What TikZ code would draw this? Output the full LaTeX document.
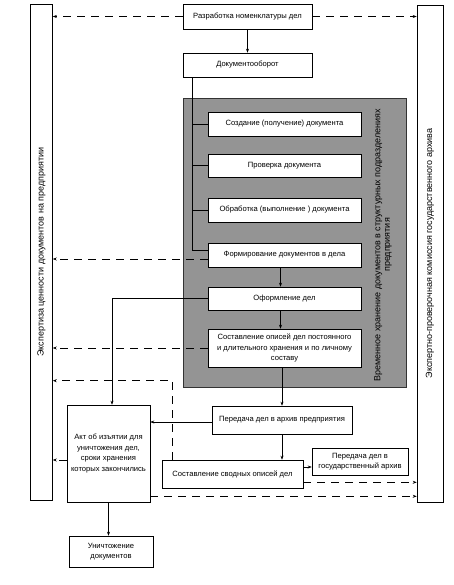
\documentclass[tikz,border=0pt]{standalone}
\usepackage{fontspec}
\setmainfont{Liberation Sans}
\usetikzlibrary{arrows.meta,calc}
\begin{document}
\begin{tikzpicture}[x=1pt,y=-1pt,
  txt/.style={font=\fontsize{7.6}{10.4}\selectfont},
  rtxt/.style={rotate=90,font=\fontsize{9}{9.6}\selectfont},
  box/.style={txt,draw,line width=0.6pt,fill=white,inner sep=1pt,align=center},
  col/.style={draw,line width=0.6pt,fill=white},
  arr/.style={-{Stealth[length=4pt,width=3pt]},line width=0.5pt},
  darr/.style={arr,dash pattern=on 8pt off 6pt},
  ln/.style={line width=0.5pt}]
\useasboundingbox (0,0) rectangle (454,585);
% side columns
\node[col,minimum width=22pt,minimum height=496pt] (lc) at (41.5,252) {};
\node[rtxt] (lct) at (lc.center) {Экспертиза ценности документов на предприятии};
\node[col,minimum width=26pt,minimum height=497pt] (rc) at (430,253.5) {};
\node[rtxt] (rct) at (rc.center) {Экспертно-проверочная комиссия государственного архива};
% grey region
\node[draw=black!80,fill=black!42,line width=0.8pt,minimum width=223pt,minimum height=289pt] (grey) at (294.5,242.5) {};
\node[rtxt,align=center] (greyt) at (383,245) {Временное хранение документов в структурных подразделениях\\предприятия};
% boxes
\node[box,minimum width=129pt,minimum height=25pt] (top) at (247.5,16.5) {Разработка номенклатуры дел};
\node[box,minimum width=129pt,minimum height=24pt] (doc) at (247.5,65) {Документооборот};
\node[box,minimum width=153pt,minimum height=24pt] (b1) at (284.5,124) {Создание (получение) документа};
\node[box,minimum width=153pt,minimum height=23pt] (b2) at (284.5,165.5) {Проверка документа};
\node[box,minimum width=153pt,minimum height=24pt] (b3) at (284.5,210) {Обработка (выполнение ) документа};
\node[box,minimum width=153pt,minimum height=24pt] (b4) at (284.5,255) {Формирование документов в дела};
\node[box,minimum width=153pt,minimum height=23pt] (b5) at (284.5,298.5) {Оформление дел};
\node[box,minimum width=153pt,minimum height=38pt] (b6) at (284.5,348) {Составление описей дел постоянного\\и длительного хранения и по личному\\составу};
\node[box,minimum width=140pt,minimum height=28pt] (pa) at (282,420) {Передача дел в архив предприятия};
\node[box,minimum width=83pt,minimum height=97pt] (akt) at (108.5,453.5) {Акт об изъятии для\\уничтожения дел,\\сроки хранения\\которых закончились};
\node[box,minimum width=141pt,minimum height=28pt] (svod) at (232.5,474) {Составление сводных описей дел};
\node[box,minimum width=96pt,minimum height=27pt] (gos) at (360,461.5) {Передача дел в\\государственный архив};
\node[box,minimum width=84pt,minimum height=31pt] (unich) at (111,551.5) {Уничтожение\\документов};
% connectors
\draw[darr] (top.west) -- (top.west -| lc.east);
\draw[darr] (top.east) -- (top.east -| rc.west);
\draw[arr] (top) -- (doc);
\coordinate (v0) at ($(doc.south west)+(10,0)$);
\coordinate (t4) at ($(b4.west)+(0,-5)$);
\draw[ln] (v0) |- (t4);
\draw[ln] (v0 |- b1.west) -- (b1.west);
\draw[ln] (v0 |- b2.west) -- (b2.west);
\draw[ln] (v0 |- b3.west) -- (b3.west);
\coordinate (b4d) at ($(b4.west)+(0,4)$);
\draw[darr] (b4d) -- (b4d -| lc.east);
\draw[arr] ($(b4.south)+(-4,0)$) -- ($(b5.north)+(-4,0)$);
\draw[arr] ($(b5.south)+(-4,0)$) -- ($(b6.north)+(-4,0)$);
\draw[arr] (b5.west) -| ($(akt.north)+(3.5,0)$);
\draw[darr] (b6.west) -- (b6.west -| lc.east);
\draw[arr] (pa.north |- b6.south) -- (pa.north);
\coordinate (pw) at ($(pa.west)+(0,2)$);
\draw[arr] (pw) -- (pw -| akt.east);
\draw[arr] (pa.south) -- (pa.south |- svod.north);
\coordinate (sg) at ($(svod.east)+(0,-7)$);
\draw[arr] (sg) -- (sg -| gos.west);
\coordinate (sv1) at ($(svod.north west)+(11,0)$);
\coordinate (k) at ($(svod.north west)+(11,-79)$);
\draw[darr] (sv1) -- (k) -- (k -| lc.east);
\coordinate (sr) at ($(svod.south east)+(0,-6)$);
\draw[darr] (sr) -- (sr -| rc.west);
\coordinate (al) at ($(akt.west)+(0,6.5)$);
\draw[darr] (al) -- (al -| lc.east);
\coordinate (ar) at ($(akt.south east)+(0,-6)$);
\draw[darr] (ar) -- (ar -| rc.west);
\draw[arr] (akt.south) -- (akt.south |- unich.north);
\end{tikzpicture}
\end{document}
